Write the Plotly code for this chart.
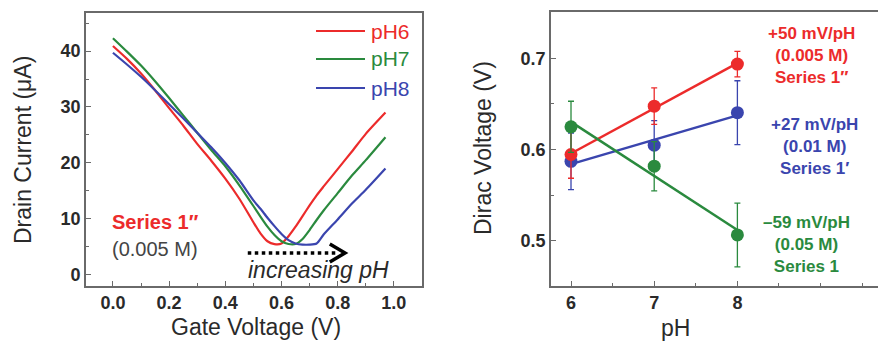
import numpy as np
import plotly.graph_objects as go

# ---- left panel: transfer curves (drain current vs gate voltage) ----
gate_v = [0.0, 0.05, 0.1, 0.15, 0.2, 0.25, 0.3, 0.35, 0.4, 0.45, 0.5, 0.525,
          0.55, 0.575, 0.6, 0.625, 0.65, 0.675, 0.7, 0.725, 0.75, 0.8, 0.85,
          0.9, 0.97]
id_ph6 = [40.9, 38.6, 36.0, 33.0, 29.8, 26.7, 23.4, 20.4, 17.2, 13.6, 9.4, 7.4,
          6.0, 5.5, 5.6, 6.9, 8.6, 10.5, 12.4, 14.2, 15.8, 18.9, 22.0, 25.2, 29.0]
id_ph7 = [42.3, 39.9, 37.4, 34.6, 31.6, 28.5, 25.4, 22.3, 19.4, 16.0, 12.3, 10.4,
          8.6, 7.1, 6.0, 5.5, 5.5, 6.4, 8.0, 9.8, 11.5, 14.6, 17.7, 20.5, 24.6]
id_ph8 = [39.7, 37.6, 35.4, 33.0, 30.5, 28.0, 25.4, 22.8, 20.0, 16.9, 13.3, 11.8,
          10.2, 8.7, 7.3, 6.2, 5.6, 5.4, 5.4, 5.6, 7.2, 9.9, 12.7, 15.2, 19.0]
curve_names = ["pH6", "pH7", "pH8"]

# ---- right panel: Dirac voltage vs pH ----
ph = [6, 7, 8]
vd_series_1pp = [0.5945, 0.6475, 0.6937]   # Series 1″ (0.005 M)
err_series_1pp = [0.026, 0.020, 0.014]
vd_series_1p = [0.587, 0.6047, 0.6404]     # Series 1′ (0.01 M)
err_series_1p = [0.031, 0.027, 0.035]
vd_series_1 = [0.6249, 0.5817, 0.5063]     # Series 1 (0.05 M)
err_series_1 = [0.028, 0.027, 0.035]

x_ticks_left = [0.0, 0.2, 0.4, 0.6, 0.8, 1.0]
y_ticks_left = [0, 10, 20, 30, 40]
x_ticks_right = [6, 7, 8]
y_ticks_right = [0.5, 0.6, 0.7]

RED = "#ec2b2b"
GREEN = "#2a8a3e"
BLUE = "#3a45ae"
FONT = "Liberation Sans, Arial, sans-serif"
AXIS = "#6a6a6a"
TXT = "#2a2a2a"

fig = go.Figure()

for y, c, n in zip([id_ph6, id_ph7, id_ph8], [RED, GREEN, BLUE], curve_names):
    fig.add_trace(go.Scatter(x=gate_v, y=y, mode="lines", name=n,
                             line=dict(color=c, width=2.2, shape="spline",
                                       smoothing=0.6),
                             xaxis="x", yaxis="y", showlegend=False))

series = [
    (vd_series_1p, err_series_1p, BLUE),
    (vd_series_1pp, err_series_1pp, RED),
    (vd_series_1, err_series_1, GREEN),
]
for v, e, c in series:
    slope, icpt = np.polyfit(ph, v, 1)
    fx = np.array([ph[0], ph[-1]], dtype=float)
    fig.add_trace(go.Scatter(x=fx, y=slope * fx + icpt, mode="lines",
                             line=dict(color=c, width=2.5),
                             xaxis="x2", yaxis="y2", showlegend=False))
    fig.add_trace(go.Scatter(x=ph, y=v, mode="markers",
                             marker=dict(color=c, size=13),
                             error_y=dict(type="data", array=e, color=c,
                                          thickness=1.3, width=3),
                             xaxis="x2", yaxis="y2", showlegend=False))

axis_common = dict(showline=True, linecolor=AXIS, linewidth=1.8, mirror=True,
                   ticks="inside", ticklen=5, tickwidth=1.2, tickcolor=AXIS,
                   showgrid=False, zeroline=False,
                   tickfont=dict(family=FONT, size=18, color=TXT, weight="bold"))

fig.update_layout(
    width=878, height=347,
    margin=dict(l=0, r=0, t=0, b=0),
    paper_bgcolor="white", plot_bgcolor="white",
    xaxis=dict(domain=[0.0979, 0.4806], range=[-0.096, 1.10],
               tickvals=x_ticks_left, ticktext=[f"{t:.1f}" for t in x_ticks_left],
               minor=dict(ticks="inside", ticklen=3, dtick=0.1, tick0=0,
                          tickcolor=AXIS),
               anchor="y", **axis_common),
    yaxis=dict(domain=[0.1758, 0.9625], range=[-2, 46.8],
               tickvals=y_ticks_left,
               minor=dict(ticks="inside", ticklen=3, dtick=5, tick0=0,
                          tickcolor=AXIS),
               anchor="x", **axis_common),
    xaxis2=dict(domain=[0.6276, 1.0], range=[5.76, 9.69],
                tickvals=x_ticks_right,
                minor=dict(ticks="inside", ticklen=3, dtick=0.5, tick0=6,
                           tickcolor=AXIS),
                anchor="y2", **axis_common),
    yaxis2=dict(domain=[0.1758, 0.9654], range=[0.4503, 0.7508],
                tickvals=y_ticks_right, ticktext=[f"{t:.1f}" for t in y_ticks_right],
                minor=dict(ticks="inside", ticklen=3, dtick=0.05, tick0=0.45,
                           tickcolor=AXIS),
                anchor="x2", **{**axis_common, "mirror": False}),
)

# legend of the transfer curves (line samples + coloured labels)
for n, c, ypx in zip(curve_names, [RED, GREEN, BLUE], [31, 59, 88]):
    yp = 1 - ypx / 347
    fig.add_shape(type="line", xref="paper", yref="paper",
                  x0=316 / 878, x1=365 / 878, y0=yp, y1=yp,
                  line=dict(color=c, width=2))
    fig.add_annotation(text=n, xref="paper", yref="paper", x=369 / 878, y=yp,
                       xanchor="left", yanchor="middle", showarrow=False,
                       font=dict(family=FONT, size=21, color=c))

# dotted arrow showing the shift direction
fig.add_shape(type="line", xref="x", yref="y", x0=0.48, x1=0.80, y0=3.9, y1=3.9,
              line=dict(color="black", width=3.5, dash="dot"))
fig.add_shape(type="path", xref="x", yref="y",
              path="M 0.772,5.5 L 0.826,3.9 L 0.772,2.3",
              line=dict(color="black", width=3.5))

annots = [
    dict(text="<i>increasing pH</i>", x=318 / 878, y=1 - 270 / 347,
         size=23, color=TXT),
    dict(text="<b>Series 1″</b>", x=110 / 878, y=1 - 222 / 347, size=20,
         color=RED, xanchor="left"),
    dict(text="(0.005 M)", x=110 / 878, y=1 - 249 / 347, size=20,
         color="#444444", xanchor="left"),
    dict(text="Gate Voltage (V)", x=256 / 878, y=1 - 327 / 347, size=23,
         color=TXT),
    dict(text="Drain Current (μA)", x=23 / 878, y=1 - 150 / 347, size=23,
         color=TXT, textangle=-90),
    dict(text="pH", x=675 / 878, y=1 - 328 / 347, size=23, color=TXT),
    dict(text="Dirac Voltage (V)", x=483 / 878, y=1 - 148 / 347, size=23,
         color=TXT, textangle=-90),
    dict(text="<b>+50 mV/pH<br>(0.005 M)<br>Series 1″</b>", x=811 / 878,
         y=1 - 55 / 347, size=17, color=RED),
    dict(text="<b>+27 mV/pH<br>(0.01 M)<br>Series 1′</b>", x=814 / 878,
         y=1 - 146 / 347, size=17, color=BLUE),
    dict(text="<b>–59 mV/pH<br>(0.05 M)<br>Series 1</b>", x=806 / 878,
         y=1 - 245 / 347, size=17, color=GREEN),
]
for a in annots:
    fig.add_annotation(text=a["text"], xref="paper", yref="paper",
                       x=a["x"], y=a["y"], showarrow=False,
                       xanchor=a.get("xanchor", "center"), yanchor="middle",
                       textangle=a.get("textangle", 0),
                       font=dict(family=FONT, size=a["size"], color=a["color"]))

fig.write_html("out.html")
